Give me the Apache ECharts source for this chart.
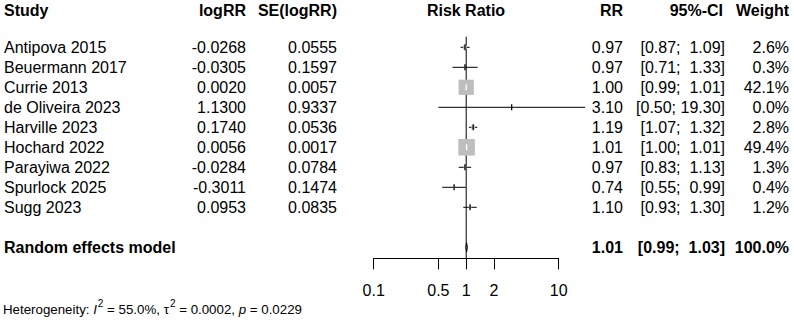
<!DOCTYPE html>
<html><head><meta charset="utf-8">
<script src="https://cdn.jsdelivr.net/npm/echarts@6/dist/echarts.min.js"></script>
<style>html,body{margin:0;padding:0;background:#fff}#c{width:794px;height:322px}</style>
</head><body><div id="c"></div>
<script>
// ---- data ----
const studies = ['Antipova 2015','Beuermann 2017','Currie 2013','de Oliveira 2023','Harville 2023','Hochard 2022','Parayiwa 2022','Spurlock 2025','Sugg 2023'];
const logRR = ['-0.0268','-0.0305','0.0020','1.1300','0.1740','0.0056','-0.0284','-0.3011','0.0953'];
const seLogRR = ['0.0555','0.1597','0.0057','0.9337','0.0536','0.0017','0.0784','0.1474','0.0835'];
const rr = [0.97,0.97,1.00,3.10,1.19,1.01,0.97,0.74,1.10];
const ciLow = [0.87,0.71,0.99,0.50,1.07,1.00,0.83,0.55,0.93];
const ciHigh = [1.09,1.33,1.01,19.30,1.32,1.01,1.13,0.99,1.30];
const weights = [2.6,0.3,42.1,0.0,2.8,49.4,1.3,0.4,1.2];
const pooledLabel = 'Random effects model';
const pooledRR = 1.01, pooledLow = 0.99, pooledHigh = 1.03, pooledWeight = 100.0;
const tickValues = [0.1,0.5,1,2,10];
const pooledRow = 10;

// ---- helpers ----
const FONT = '"Liberation Sans", Arial, sans-serif';
const FS = 16;
const NB = '\u00a0';
function ciText(lo, hi) {
  let h = hi.toFixed(2);
  while (h.length < 5) h = NB + h;
  return '[' + lo.toFixed(2) + ';' + NB + h + ']';
}
const L = Math.log10;

const chart = echarts.init(document.getElementById('c'), null, {renderer: 'svg'});

const forestData = studies.map((s, i) => [L(rr[i]), i, L(ciLow[i]), L(ciHigh[i]), weights[i]]);
const tableData = studies.map((s, i) => [0, i]);
tableData.push([0, pooledRow]);

function txt(x, y, text, align, bold) {
  return {type: 'text', x: x, y: y, style: {text: text, fill: '#000', font: (bold ? 'bold ' : '') + FS + 'px ' + FONT, align: align, verticalAlign: 'middle'}};
}
const HS = 13.3;

const option = {
  animation: false,
  backgroundColor: '#fff',
  grid: {left: 373.7, right: 235.3, top: 36.7, bottom: 63.7},
  xAxis: {
    type: 'value', min: -1, max: 1,
    axisLine: {show: true, onZero: false, lineStyle: {color: '#000', width: 1}},
    axisTick: {show: true, customValues: tickValues.map(L), length: 11, lineStyle: {color: '#000', width: 1}},
    axisLabel: {customValues: tickValues.map(L), color: '#000', fontSize: FS, fontFamily: FONT, margin: 24, hideOverlap: false,
      formatter: v => String(Math.round(Math.pow(10, v) * 10) / 10)},
    splitLine: {show: false}
  },
  yAxis: {type: 'value', min: -0.53, max: 10.55, inverse: true, show: false},
  series: [
    { // reference line at RR = 1
      type: 'custom', clip: false, silent: true,
      data: [[0, -0.53, 10.55]],
      renderItem: (p, api) => {
        const a = api.coord([api.value(0), api.value(1)]);
        const b = api.coord([api.value(0), api.value(2)]);
        return {type: 'line', shape: {x1: a[0], y1: a[1], x2: b[0], y2: b[1]}, style: {stroke: '#000', lineWidth: 1}};
      }
    },
    { // study estimates
      type: 'custom', clip: false, silent: true,
      data: forestData,
      renderItem: (p, api) => {
        const y = api.coord([0, api.value(1)])[1];
        const xe = api.coord([api.value(0), 0])[0];
        const xl = api.coord([api.value(2), 0])[0];
        const xh = api.coord([api.value(3), 0])[0];
        const side = 2.35 * Math.sqrt(api.value(4));
        const big = side > 8;
        const ch = [
          {type: 'line', shape: {x1: xl, y1: y, x2: xh, y2: y}, style: {stroke: '#000', lineWidth: 1}}
        ];
        if (side > 0) ch.push({type: 'rect', shape: {x: xe - side / 2, y: y - side / 2, width: side, height: side}, style: {fill: '#BEBEBE'}});
        ch.push({type: 'line', shape: {x1: xe, y1: y - 3, x2: xe, y2: y + 3}, style: {stroke: big ? '#fff' : '#000', lineWidth: 1.3}});
        return {type: 'group', children: ch};
      }
    },
    { // pooled diamond
      type: 'custom', clip: false, silent: true,
      data: [[L(pooledRR), pooledRow, L(pooledLow), L(pooledHigh)]],
      renderItem: (p, api) => {
        const y = api.coord([0, api.value(1)])[1];
        const xe = api.coord([api.value(0), 0])[0];
        const xl = api.coord([api.value(2), 0])[0];
        const xh = api.coord([api.value(3), 0])[0];
        return {type: 'polygon', shape: {points: [[xl, y], [xe, y - 4.5], [xh, y], [xe, y + 4.5]]}, style: {fill: '#808080', stroke: '#000', lineWidth: 1}};
      }
    },
    { // table text
      type: 'custom', clip: false, silent: true,
      data: tableData,
      renderItem: (p, api) => {
        const i = p.dataIndex;
        const y = api.coord([0, api.value(1)])[1];
        if (i < studies.length) {
          return {type: 'group', children: [
            txt(4, y, studies[i], 'left'),
            txt(246, y, logRR[i], 'right'),
            txt(337, y, seLogRR[i], 'right'),
            txt(623, y, rr[i].toFixed(2), 'right'),
            txt(725, y, ciText(ciLow[i], ciHigh[i]), 'right'),
            txt(789, y, weights[i].toFixed(1) + '%', 'right')
          ]};
        }
        return {type: 'group', children: [
          txt(4, y, pooledLabel, 'left', true),
          txt(623, y, pooledRR.toFixed(2), 'right', true),
          txt(725, y, ciText(pooledLow, pooledHigh), 'right', true),
          txt(789, y, pooledWeight.toFixed(1) + '%', 'right', true)
        ]};
      }
    }
  ],
  graphic: [
    {type: 'text', x: 4, y: 10, style: {text: 'Study', fill: '#000', font: 'bold 16px ' + FONT, align: 'left', verticalAlign: 'middle'}},
    {type: 'text', x: 246, y: 10, style: {text: 'logRR', fill: '#000', font: 'bold 16px ' + FONT, align: 'right', verticalAlign: 'middle'}},
    {type: 'text', x: 337, y: 10, style: {text: 'SE(logRR)', fill: '#000', font: 'bold 16px ' + FONT, align: 'right', verticalAlign: 'middle'}},
    {type: 'text', x: 466, y: 10, style: {text: 'Risk Ratio', fill: '#000', font: 'bold 16px ' + FONT, align: 'center', verticalAlign: 'middle'}},
    {type: 'text', x: 623, y: 10, style: {text: 'RR', fill: '#000', font: 'bold 16px ' + FONT, align: 'right', verticalAlign: 'middle'}},
    {type: 'text', x: 723, y: 10, style: {text: '95%-CI', fill: '#000', font: 'bold 16px ' + FONT, align: 'right', verticalAlign: 'middle'}},
    {type: 'text', x: 789, y: 10, style: {text: 'Weight', fill: '#000', font: 'bold 16px ' + FONT, align: 'right', verticalAlign: 'middle'}},
    {type: 'text', x: 3, y: 307, style: {
      text: '{n|Heterogeneity: }{i|I}{s|2}{n| = 55.0%, τ}{s|2}{n| = 0.0002, }{i|p}{n| = 0.0229}',
      align: 'left', verticalAlign: 'middle', font: HS + 'px ' + FONT,
      rich: {
        n: {fontSize: HS, fontFamily: FONT, fill: '#000', lineHeight: 17, verticalAlign: 'bottom'},
        i: {fontSize: HS, fontFamily: FONT, fontStyle: 'italic', fill: '#000', lineHeight: 17, verticalAlign: 'bottom'},
        s: {fontSize: 10, fontFamily: FONT, fill: '#000', lineHeight: 17, verticalAlign: 'top', padding: [0, 0, 0, 1]}
      }
    }}
  ]
};
chart.setOption(option);
</script>
</body></html>
